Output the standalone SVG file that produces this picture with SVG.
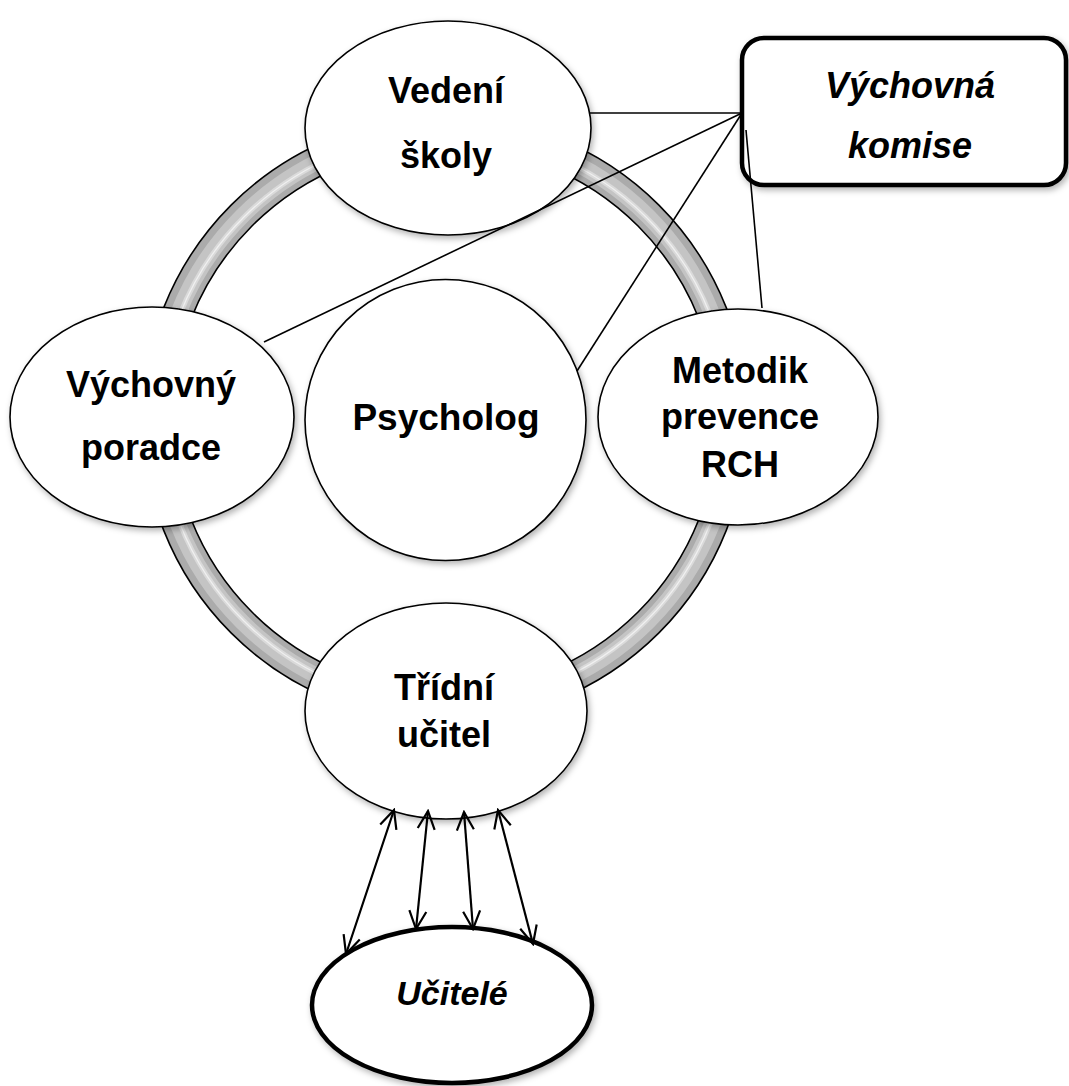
<svg xmlns="http://www.w3.org/2000/svg" width="1069" height="1086" viewBox="0 0 1069 1086">
<defs>
<filter id="sh" x="-20%" y="-20%" width="140%" height="140%">
<feDropShadow dx="2" dy="3" stdDeviation="3" flood-color="#000" flood-opacity="0.3"/>
</filter>
<marker id="ah" viewBox="0 0 22 22" refX="20" refY="11" markerWidth="22" markerHeight="22" markerUnits="userSpaceOnUse" orient="auto-start-reverse">
<path d="M2,2.5 L20,11 L2,19.5" fill="none" stroke="#000" stroke-width="2.2"/>
</marker>
</defs>
<style>
.node{fill:#fff;stroke:#000;stroke-width:1.6;filter:url(#sh)}
.lbl{font-family:"Liberation Sans",Arial,sans-serif;font-weight:bold;font-size:36px;fill:#000;text-anchor:middle}
.it{font-style:italic}
.con{stroke:#000;stroke-width:1.6;fill:none}
.arr{stroke:#000;stroke-width:2.2;fill:none;marker-start:url(#ah);marker-end:url(#ah)}
</style>
<rect width="1069" height="1086" fill="#fff"/>
<g id="ring">
<circle cx="445" cy="419" r="287.5" fill="none" stroke="#ababab" stroke-width="29"/>
<circle cx="445" cy="419" r="287" fill="none" stroke="#c4c4c4" stroke-width="16"/>
<circle cx="445" cy="419" r="285" fill="none" stroke="#dadada" stroke-width="5"/>
<circle cx="445" cy="419" r="285" fill="none" stroke="#f0f0f0" stroke-width="1.2"/>
<circle cx="445" cy="419" r="302.5" fill="none" stroke="#000" stroke-width="1.6"/>
<circle cx="445" cy="419" r="273" fill="none" stroke="#000" stroke-width="1.6"/>
</g>
<g id="vedeni">
<ellipse class="node" cx="448" cy="128" rx="143" ry="107"/>
<text class="lbl" x="446" y="103">Vedení</text>
<text class="lbl" x="446" y="168">školy</text>
</g>
<g id="poradce">
<ellipse class="node" cx="152" cy="417" rx="142" ry="110"/>
<text class="lbl" x="151" y="397">Výchovný</text>
<text class="lbl" x="151" y="460">poradce</text>
</g>
<g id="psycholog">
<circle class="node" cx="445.5" cy="420" r="140.5"/>
<text class="lbl" x="446" y="430" style="font-size:37px">Psycholog</text>
</g>
<g id="metodik">
<ellipse class="node" cx="738" cy="417" rx="140" ry="108"/>
<text class="lbl" x="740" y="383">Metodik</text>
<text class="lbl" x="740" y="429">prevence</text>
<text class="lbl" x="740" y="477">RCH</text>
</g>
<g id="tridni">
<ellipse class="node" cx="446" cy="711" rx="141" ry="108"/>
<text class="lbl" x="444" y="700">Třídní</text>
<text class="lbl" x="444" y="747">učitel</text>
</g>
<g id="ucitele">
<ellipse cx="452" cy="1005" rx="140" ry="78" fill="#fff" stroke="#000" stroke-width="4.5" filter="url(#sh)"/>
<text class="lbl it" x="452" y="1005" style="font-size:34px">Učitelé</text>
</g>
<g id="komise">
<rect x="742" y="38" width="324" height="147" rx="22" fill="#fff" stroke="#000" stroke-width="4.5" filter="url(#sh)"/>
<text class="lbl it" x="910" y="98">Výchovná</text>
<text class="lbl it" x="910" y="158">komise</text>
</g>
<g id="connectors">
<line class="con" x1="742" y1="113" x2="590" y2="113"/>
<line class="con" x1="742" y1="113" x2="264" y2="342"/>
<line class="con" x1="742" y1="113" x2="577" y2="371"/>
<line class="con" x1="746" y1="130" x2="762" y2="308"/>
<line class="arr" x1="394" y1="810" x2="346" y2="954"/>
<line class="arr" x1="428" y1="811" x2="416" y2="929"/>
<line class="arr" x1="464" y1="812" x2="473" y2="929"/>
<line class="arr" x1="498" y1="810" x2="533" y2="944"/>
</g>
</svg>
